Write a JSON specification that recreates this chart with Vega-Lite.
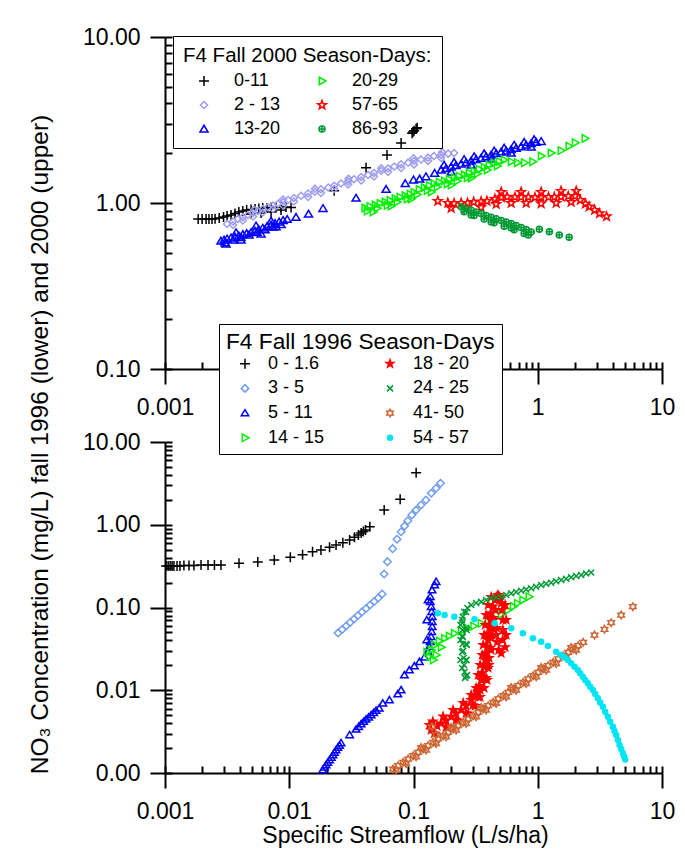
{
"$schema":"https://vega.github.io/schema/vega-lite/v6.json",
"background":"white",
"padding":{"left":27,"top":26,"right":5,"bottom":5},
"config":{"view":{"stroke":null},"font":"Liberation Sans",
 "axis":{"domainColor":"black","domainWidth":2,"tickColor":"black","tickWidth":2,"labelColor":"black","labelFont":"Liberation Sans","labelFontSize":23,"titleFont":"Liberation Sans","titleFontSize":23,"titleFontWeight":"normal","titleColor":"black","grid":false,"labelOverlap":false,"labelFlush":false,"labelBound":false},
 "legend":{"labelFont":"Liberation Sans","labelFontSize":18,"labelColor":"black","titleFont":"Liberation Sans","titleFontWeight":"normal","titleColor":"black","fillColor":"white","strokeColor":"black","symbolStrokeWidth":1.5,"symbolSize":100,"labelLimit":300,"titleLimit":500,"columns":2}
},
"resolve":{"scale":{"shape":"independent","stroke":"independent","fill":"independent"},"legend":{"shape":"independent","stroke":"independent","fill":"independent"}},
"datasets":{
"upper":[
{"series":"0-11","x":0.00185,"y":0.8},{"series":"0-11","x":0.00199,"y":0.8},{"series":"0-11","x":0.00214,"y":0.8},{"series":"0-11","x":0.00226,"y":0.8},{"series":"0-11","x":0.00239,"y":0.8},{"series":"0-11","x":0.00253,"y":0.805},{"series":"0-11","x":0.00273,"y":0.812},{"series":"0-11","x":0.00296,"y":0.824},{"series":"0-11","x":0.00316,"y":0.836},{"series":"0-11","x":0.0034,"y":0.847},{"series":"0-11","x":0.00366,"y":0.865},{"series":"0-11","x":0.00393,"y":0.883},{"series":"0-11","x":0.00423,"y":0.895},{"series":"0-11","x":0.00454,"y":0.907},{"series":"0-11","x":0.00493,"y":0.914},{"series":"0-11","x":0.0053,"y":0.92},{"series":"0-11","x":0.00569,"y":0.927},{"series":"0-11","x":0.00612,"y":0.933},{"series":"0-11","x":0.00663,"y":0.933},{"series":"0-11","x":0.00714,"y":0.94},{"series":"0-11","x":0.00783,"y":0.94},{"series":"0-11","x":0.00859,"y":0.946},{"series":"0-11","x":0.00942,"y":0.946},{"series":"0-11","x":0.01034,"y":0.94},{"series":"0-11","x":0.00493,"y":0.859},{"series":"0-11","x":0.00593,"y":0.871},{"series":"0-11","x":0.00714,"y":0.883},{"series":"0-11","x":0.00859,"y":0.907},{"series":"0-11","x":0.023,"y":1.186},{"series":"0-11","x":0.0415,"y":1.632},{"series":"0-11","x":0.0612,"y":1.946},{"series":"0-11","x":0.0795,"y":2.3},{"series":"0-11","x":0.0974,"y":2.63},{"series":"0-11","x":0.099,"y":2.68},{"series":"0-11","x":0.1011,"y":2.72},{"series":"0-11","x":0.1049,"y":2.8},{"series":"0-11","x":0.107,"y":2.84},
{"series":"2 - 13","x":0.00316,"y":0.747},{"series":"2 - 13","x":0.00353,"y":0.773},{"series":"2 - 13","x":0.00386,"y":0.801},{"series":"2 - 13","x":0.00423,"y":0.822},{"series":"2 - 13","x":0.00465,"y":0.847},{"series":"2 - 13","x":0.00511,"y":0.871},{"series":"2 - 13","x":0.00562,"y":0.895},{"series":"2 - 13","x":0.00612,"y":0.92},{"series":"2 - 13","x":0.00673,"y":0.942},{"series":"2 - 13","x":0.0074,"y":0.966},{"series":"2 - 13","x":0.00813,"y":0.99},{"series":"2 - 13","x":0.00892,"y":1.014},{"series":"2 - 13","x":0.00978,"y":1.042},{"series":"2 - 13","x":0.0109,"y":1.071},{"series":"2 - 13","x":0.01245,"y":1.105},{"series":"2 - 13","x":0.0142,"y":1.14},{"series":"2 - 13","x":0.0161,"y":1.17},{"series":"2 - 13","x":0.018,"y":1.21},{"series":"2 - 13","x":0.0206,"y":1.24},{"series":"2 - 13","x":0.023,"y":1.27},{"series":"2 - 13","x":0.0261,"y":1.31},{"series":"2 - 13","x":0.0298,"y":1.35},{"series":"2 - 13","x":0.0331,"y":1.39},{"series":"2 - 13","x":0.0379,"y":1.435},{"series":"2 - 13","x":0.0431,"y":1.475},{"series":"2 - 13","x":0.0481,"y":1.515},{"series":"2 - 13","x":0.0549,"y":1.564},{"series":"2 - 13","x":0.0625,"y":1.615},{"series":"2 - 13","x":0.0699,"y":1.66},{"series":"2 - 13","x":0.0795,"y":1.71},{"series":"2 - 13","x":0.0906,"y":1.75},{"series":"2 - 13","x":0.101,"y":1.79},{"series":"2 - 13","x":0.115,"y":1.83},{"series":"2 - 13","x":0.131,"y":1.875},{"series":"2 - 13","x":0.146,"y":1.92},{"series":"2 - 13","x":0.167,"y":1.95},{"series":"2 - 13","x":0.19,"y":1.985},{"series":"2 - 13","x":0.212,"y":2.0},{"series":"2 - 13","x":0.0052,"y":0.91},{"series":"2 - 13","x":0.0089,"y":1.05},{"series":"2 - 13","x":0.0161,"y":1.22},{"series":"2 - 13","x":0.03,"y":1.4},{"series":"2 - 13","x":0.055,"y":1.62},{"series":"2 - 13","x":0.1,"y":1.86},{"series":"2 - 13","x":0.17,"y":2.02},
{"series":"2 - 13","x":0.00353,"y":0.737},{"series":"2 - 13","x":0.00423,"y":0.785},{"series":"2 - 13","x":0.00511,"y":0.829},{"series":"2 - 13","x":0.00612,"y":0.877},{"series":"2 - 13","x":0.0074,"y":0.92},{"series":"2 - 13","x":0.00892,"y":0.966},{"series":"2 - 13","x":0.0109,"y":1.021},{"series":"2 - 13","x":0.0142,"y":1.087},{"series":"2 - 13","x":0.018,"y":1.149},{"series":"2 - 13","x":0.023,"y":1.214},{"series":"2 - 13","x":0.0298,"y":1.292},{"series":"2 - 13","x":0.0379,"y":1.366},{"series":"2 - 13","x":0.0481,"y":1.444},{"series":"2 - 13","x":0.0625,"y":1.537},{"series":"2 - 13","x":0.0795,"y":1.626},{"series":"2 - 13","x":0.101,"y":1.706},{"series":"2 - 13","x":0.131,"y":1.791},{"series":"2 - 13","x":0.167,"y":1.867},
{"series":"13-20","x":0.00282,"y":0.59},{"series":"13-20","x":0.00299,"y":0.5985},{"series":"13-20","x":0.00316,"y":0.607},{"series":"13-20","x":0.0034,"y":0.616},{"series":"13-20","x":0.00366,"y":0.625},{"series":"13-20","x":0.00393,"y":0.633},{"series":"13-20","x":0.00423,"y":0.646},{"series":"13-20","x":0.00454,"y":0.655},{"series":"13-20","x":0.00493,"y":0.664},{"series":"13-20","x":0.0053,"y":0.678},{"series":"13-20","x":0.00569,"y":0.692},{"series":"13-20","x":0.00612,"y":0.706},{"series":"13-20","x":0.00663,"y":0.721},{"series":"13-20","x":0.00714,"y":0.737},{"series":"13-20","x":0.00768,"y":0.753},{"series":"13-20","x":0.00829,"y":0.769},{"series":"13-20","x":0.00892,"y":0.785},{"series":"13-20","x":0.00962,"y":0.797},{"series":"13-20","x":0.0031,"y":0.566},{"series":"13-20","x":0.00409,"y":0.5985},{"series":"13-20","x":0.00593,"y":0.651},{"series":"13-20","x":0.00783,"y":0.72},{"series":"13-20","x":0.00373,"y":0.662},{"series":"13-20","x":0.0054,"y":0.727},{"series":"13-20","x":0.00714,"y":0.779},
{"series":"13-20","x":0.00304,"y":0.5764},{"series":"13-20","x":0.00353,"y":0.5977},{"series":"13-20","x":0.00409,"y":0.6197},{"series":"13-20","x":0.00475,"y":0.6426},{"series":"13-20","x":0.0055,"y":0.6663},{"series":"13-20","x":0.00639,"y":0.6907},{"series":"13-20","x":0.00741,"y":0.7162},{"series":"13-20","x":0.00859,"y":0.7425},
{"series":"13-20","x":0.01134,"y":0.82},{"series":"13-20","x":0.0143,"y":0.858},{"series":"13-20","x":0.0187,"y":0.928},{"series":"13-20","x":0.0345,"y":1.07},{"series":"13-20","x":0.0602,"y":1.21},{"series":"13-20","x":0.0858,"y":1.31},{"series":"13-20","x":0.1,"y":1.376},{"series":"13-20","x":0.112,"y":1.395},{"series":"13-20","x":0.126,"y":1.44},{"series":"13-20","x":0.148,"y":1.51},{"series":"13-20","x":0.167,"y":1.58},{"series":"13-20","x":0.183,"y":1.615},{"series":"13-20","x":0.201,"y":1.65},{"series":"13-20","x":0.22,"y":1.68},{"series":"13-20","x":0.242,"y":1.716},{"series":"13-20","x":0.265,"y":1.75},{"series":"13-20","x":0.291,"y":1.79},{"series":"13-20","x":0.319,"y":1.83},{"series":"13-20","x":0.35,"y":1.86},{"series":"13-20","x":0.384,"y":1.9},{"series":"13-20","x":0.422,"y":1.946},{"series":"13-20","x":0.463,"y":1.985},{"series":"13-20","x":0.508,"y":2.03},{"series":"13-20","x":0.557,"y":2.06},{"series":"13-20","x":0.611,"y":2.1},{"series":"13-20","x":0.67,"y":2.14},{"series":"13-20","x":0.735,"y":2.18},{"series":"13-20","x":0.807,"y":2.235},{"series":"13-20","x":0.885,"y":2.28},{"series":"13-20","x":0.971,"y":2.32},{"series":"13-20","x":1.065,"y":2.35},{"series":"13-20","x":0.201,"y":1.537},{"series":"13-20","x":0.291,"y":1.694},{"series":"13-20","x":0.422,"y":1.841},{"series":"13-20","x":0.611,"y":2.0},{"series":"13-20","x":0.885,"y":2.174},
{"series":"13-20","x":0.1763,"y":1.692},{"series":"13-20","x":0.2123,"y":1.759},{"series":"13-20","x":0.2555,"y":1.831},{"series":"13-20","x":0.3075,"y":1.903},{"series":"13-20","x":0.3702,"y":1.98},{"series":"13-20","x":0.4456,"y":2.059},{"series":"13-20","x":0.5365,"y":2.144},{"series":"13-20","x":0.6457,"y":2.229},{"series":"13-20","x":0.7771,"y":2.32},{"series":"13-20","x":0.9354,"y":2.412},
{"series":"20-29","x":0.0406,"y":0.933},{"series":"20-29","x":0.0446,"y":0.953},{"series":"20-29","x":0.0491,"y":0.973},{"series":"20-29","x":0.0538,"y":0.993},{"series":"20-29","x":0.059,"y":1.014},{"series":"20-29","x":0.0647,"y":1.035},{"series":"20-29","x":0.0711,"y":1.063},{"series":"20-29","x":0.0778,"y":1.084},{"series":"20-29","x":0.0855,"y":1.106},{"series":"20-29","x":0.0937,"y":1.129},{"series":"20-29","x":0.101,"y":1.16},{"series":"20-29","x":0.111,"y":1.206},{"series":"20-29","x":0.122,"y":1.24},{"series":"20-29","x":0.134,"y":1.274},{"series":"20-29","x":0.146,"y":1.31},{"series":"20-29","x":0.161,"y":1.335},{"series":"20-29","x":0.177,"y":1.36},{"series":"20-29","x":0.194,"y":1.39},{"series":"20-29","x":0.213,"y":1.42},{"series":"20-29","x":0.233,"y":1.45},{"series":"20-29","x":0.256,"y":1.48},{"series":"20-29","x":0.28,"y":1.52},{"series":"20-29","x":0.307,"y":1.55},{"series":"20-29","x":0.337,"y":1.6},{"series":"20-29","x":0.37,"y":1.645},{"series":"20-29","x":0.406,"y":1.694},{"series":"20-29","x":0.445,"y":1.74},{"series":"20-29","x":0.488,"y":1.78},{"series":"20-29","x":0.536,"y":1.816},{"series":"20-29","x":0.0473,"y":0.883},{"series":"20-29","x":0.066,"y":0.959},{"series":"20-29","x":0.0957,"y":1.057},{"series":"20-29","x":0.139,"y":1.165},{"series":"20-29","x":0.201,"y":1.283},{"series":"20-29","x":0.291,"y":1.414},
{"series":"20-29","x":0.04231,"y":0.8951},{"series":"20-29","x":0.05094,"y":0.9305},{"series":"20-29","x":0.06133,"y":0.9685},{"series":"20-29","x":0.07379,"y":1.014},{"series":"20-29","x":0.08883,"y":1.057},{"series":"20-29","x":0.1069,"y":1.125},{"series":"20-29","x":0.1287,"y":1.19},{"series":"20-29","x":0.1549,"y":1.249},{"series":"20-29","x":0.1865,"y":1.302},{"series":"20-29","x":0.2244,"y":1.357},{"series":"20-29","x":0.2702,"y":1.419},{"series":"20-29","x":0.3252,"y":1.5},{"series":"20-29","x":0.3915,"y":1.58},{"series":"20-29","x":0.4712,"y":1.67},
{"series":"20-29","x":0.611,"y":1.775},{"series":"20-29","x":0.685,"y":1.75},{"series":"20-29","x":0.78,"y":1.75},{"series":"20-29","x":0.91,"y":1.775},{"series":"20-29","x":1.065,"y":1.92},{"series":"20-29","x":1.28,"y":2.0},{"series":"20-29","x":1.54,"y":2.07},{"series":"20-29","x":1.78,"y":2.2},{"series":"20-29","x":2.0,"y":2.31},{"series":"20-29","x":2.4,"y":2.45},
{"series":"57-65","x":0.157,"y":1.028},{"series":"57-65","x":0.189,"y":1.0},{"series":"57-65","x":0.212,"y":0.995},{"series":"57-65","x":0.242,"y":1.0},{"series":"57-65","x":0.272,"y":1.0},{"series":"57-65","x":0.305,"y":1.014},{"series":"57-65","x":0.35,"y":1.02},{"series":"57-65","x":0.39,"y":1.028},{"series":"57-65","x":0.452,"y":1.057},{"series":"57-65","x":0.508,"y":1.08},{"series":"57-65","x":0.566,"y":1.09},{"series":"57-65","x":0.655,"y":1.085},{"series":"57-65","x":0.735,"y":1.085},{"series":"57-65","x":0.84,"y":1.085},{"series":"57-65","x":0.95,"y":1.08},{"series":"57-65","x":1.065,"y":1.08},{"series":"57-65","x":1.22,"y":1.085},{"series":"57-65","x":1.36,"y":1.085},{"series":"57-65","x":1.54,"y":1.09},{"series":"57-65","x":1.76,"y":1.1},{"series":"57-65","x":2.0,"y":1.1},{"series":"57-65","x":2.2,"y":1.042},{"series":"57-65","x":2.42,"y":0.99},{"series":"57-65","x":2.59,"y":0.95},{"series":"57-65","x":2.87,"y":0.907},{"series":"57-65","x":3.14,"y":0.865},{"series":"57-65","x":3.58,"y":0.83},{"series":"57-65","x":0.201,"y":0.933},{"series":"57-65","x":0.265,"y":0.927},{"series":"57-65","x":0.35,"y":0.94},{"series":"57-65","x":0.463,"y":0.986},{"series":"57-65","x":0.611,"y":1.0},{"series":"57-65","x":0.807,"y":1.0},{"series":"57-65","x":1.065,"y":0.993},{"series":"57-65","x":1.407,"y":1.0},{"series":"57-65","x":1.858,"y":1.014},{"series":"57-65","x":0.508,"y":1.165},{"series":"57-65","x":0.735,"y":1.165},{"series":"57-65","x":1.065,"y":1.165},{"series":"57-65","x":1.54,"y":1.18},{"series":"57-65","x":2.04,"y":1.18},
{"series":"86-93","x":0.242,"y":0.95},{"series":"86-93","x":0.265,"y":0.927},{"series":"86-93","x":0.291,"y":0.903},{"series":"86-93","x":0.319,"y":0.883},{"series":"86-93","x":0.35,"y":0.865},{"series":"86-93","x":0.384,"y":0.84},{"series":"86-93","x":0.422,"y":0.822},{"series":"86-93","x":0.463,"y":0.805},{"series":"86-93","x":0.508,"y":0.785},{"series":"86-93","x":0.557,"y":0.769},{"series":"86-93","x":0.611,"y":0.753},{"series":"86-93","x":0.67,"y":0.732},{"series":"86-93","x":0.735,"y":0.712},{"series":"86-93","x":0.807,"y":0.692},{"series":"86-93","x":0.885,"y":0.669},{"series":"86-93","x":0.291,"y":0.847},{"series":"86-93","x":0.422,"y":0.769},{"series":"86-93","x":0.611,"y":0.707},{"series":"86-93","x":0.84,"y":0.642},
{"series":"86-93","x":0.2554,"y":0.8851},{"series":"86-93","x":0.3075,"y":0.8418},{"series":"86-93","x":0.3702,"y":0.8008},{"series":"86-93","x":0.4456,"y":0.7616},{"series":"86-93","x":0.5365,"y":0.7245},{"series":"86-93","x":0.6457,"y":0.6896},{"series":"86-93","x":0.7771,"y":0.6558},
{"series":"86-93","x":1.03,"y":0.694},{"series":"86-93","x":1.24,"y":0.672},{"series":"86-93","x":1.49,"y":0.642},{"series":"86-93","x":1.79,"y":0.622}
],
"lower":[
{"series":"0 - 1.6","x":0.00102,"y":0.318},{"series":"0 - 1.6","x":0.00106,"y":0.318},{"series":"0 - 1.6","x":0.0011,"y":0.318},{"series":"0 - 1.6","x":0.00114,"y":0.318},{"series":"0 - 1.6","x":0.00118,"y":0.318},{"series":"0 - 1.6","x":0.00125,"y":0.318},{"series":"0 - 1.6","x":0.00132,"y":0.318},{"series":"0 - 1.6","x":0.00142,"y":0.322},{"series":"0 - 1.6","x":0.00156,"y":0.322},{"series":"0 - 1.6","x":0.00171,"y":0.322},{"series":"0 - 1.6","x":0.00195,"y":0.326},{"series":"0 - 1.6","x":0.00222,"y":0.326},{"series":"0 - 1.6","x":0.0025,"y":0.326},{"series":"0 - 1.6","x":0.00282,"y":0.326},{"series":"0 - 1.6","x":0.00394,"y":0.342},{"series":"0 - 1.6","x":0.00558,"y":0.355},{"series":"0 - 1.6","x":0.00758,"y":0.375},{"series":"0 - 1.6","x":0.0102,"y":0.404},{"series":"0 - 1.6","x":0.0128,"y":0.4345},{"series":"0 - 1.6","x":0.0154,"y":0.472},{"series":"0 - 1.6","x":0.018,"y":0.495},{"series":"0 - 1.6","x":0.0211,"y":0.534},{"series":"0 - 1.6","x":0.0238,"y":0.569},{"series":"0 - 1.6","x":0.027,"y":0.607},{"series":"0 - 1.6","x":0.0306,"y":0.654},{"series":"0 - 1.6","x":0.0335,"y":0.705},{"series":"0 - 1.6","x":0.036,"y":0.752},{"series":"0 - 1.6","x":0.0379,"y":0.795},{"series":"0 - 1.6","x":0.0395,"y":0.829},{"series":"0 - 1.6","x":0.0411,"y":0.864},{"series":"0 - 1.6","x":0.0445,"y":0.947},{"series":"0 - 1.6","x":0.0581,"y":1.508},{"series":"0 - 1.6","x":0.0781,"y":2.03},{"series":"0 - 1.6","x":0.105,"y":4.25},
{"series":"3 - 5","x":0.0247,"y":0.0493},{"series":"3 - 5","x":0.0267,"y":0.0542},{"series":"3 - 5","x":0.0287,"y":0.0597},{"series":"3 - 5","x":0.0309,"y":0.0659},{"series":"3 - 5","x":0.0332,"y":0.0726},{"series":"3 - 5","x":0.0357,"y":0.08},{"series":"3 - 5","x":0.0384,"y":0.0882},{"series":"3 - 5","x":0.0415,"y":0.0973},{"series":"3 - 5","x":0.0447,"y":0.1072},{"series":"3 - 5","x":0.0482,"y":0.1182},{"series":"3 - 5","x":0.052,"y":0.1303},{"series":"3 - 5","x":0.0559,"y":0.1456},{"series":"3 - 5","x":0.058,"y":0.254},{"series":"3 - 5","x":0.0617,"y":0.358},{"series":"3 - 5","x":0.0679,"y":0.514},{"series":"3 - 5","x":0.0737,"y":0.667},{"series":"3 - 5","x":0.0795,"y":0.824},{"series":"3 - 5","x":0.0846,"y":0.966},{"series":"3 - 5","x":0.09,"y":1.119},{"series":"3 - 5","x":0.0969,"y":1.312},{"series":"3 - 5","x":0.105,"y":1.508},{"series":"3 - 5","x":0.115,"y":1.733},{"series":"3 - 5","x":0.126,"y":1.99},{"series":"3 - 5","x":0.139,"y":2.4},{"series":"3 - 5","x":0.152,"y":2.76},{"series":"3 - 5","x":0.165,"y":3.17},
{"series":"5 - 11","x":0.0186,"y":0.001087},{"series":"5 - 11","x":0.0192,"y":0.00117},{"series":"5 - 11","x":0.0198,"y":0.00125},{"series":"5 - 11","x":0.0204,"y":0.00134},{"series":"5 - 11","x":0.0211,"y":0.00144},{"series":"5 - 11","x":0.0218,"y":0.00154},{"series":"5 - 11","x":0.0225,"y":0.00165},{"series":"5 - 11","x":0.0231,"y":0.00177},{"series":"5 - 11","x":0.0238,"y":0.0019},{"series":"5 - 11","x":0.0246,"y":0.00203},{"series":"5 - 11","x":0.0254,"y":0.00215},{"series":"5 - 11","x":0.0261,"y":0.00231},{"series":"5 - 11","x":0.0306,"y":0.00288},{"series":"5 - 11","x":0.0345,"y":0.00337},{"series":"5 - 11","x":0.0362,"y":0.00362},{"series":"5 - 11","x":0.0379,"y":0.00391},{"series":"5 - 11","x":0.0397,"y":0.00418},{"series":"5 - 11","x":0.0415,"y":0.00446},{"series":"5 - 11","x":0.0435,"y":0.00473},{"series":"5 - 11","x":0.0456,"y":0.00502},{"series":"5 - 11","x":0.0478,"y":0.00535},{"series":"5 - 11","x":0.05,"y":0.00569},{"series":"5 - 11","x":0.053,"y":0.00605},{"series":"5 - 11","x":0.0566,"y":0.00695},{"series":"5 - 11","x":0.064,"y":0.00762},{"series":"5 - 11","x":0.0747,"y":0.00901},{"series":"5 - 11","x":0.0795,"y":0.01007},{"series":"5 - 11","x":0.0845,"y":0.01528},{"series":"5 - 11","x":0.0927,"y":0.01756},{"series":"5 - 11","x":0.1017,"y":0.0196},{"series":"5 - 11","x":0.1116,"y":0.0221},{"series":"5 - 11","x":0.1224,"y":0.025},{"series":"5 - 11","x":0.1303,"y":0.0292},{"series":"5 - 11","x":0.134,"y":0.0336},{"series":"5 - 11","x":0.1365,"y":0.0386},{"series":"5 - 11","x":0.1386,"y":0.0444},{"series":"5 - 11","x":0.14,"y":0.051},{"series":"5 - 11","x":0.1414,"y":0.0586},{"series":"5 - 11","x":0.1414,"y":0.0673},{"series":"5 - 11","x":0.1414,"y":0.0774},{"series":"5 - 11","x":0.14,"y":0.0889},{"series":"5 - 11","x":0.1386,"y":0.1022},{"series":"5 - 11","x":0.1365,"y":0.1175},{"series":"5 - 11","x":0.1365,"y":0.1351},{"series":"5 - 11","x":0.141,"y":0.1627},{"series":"5 - 11","x":0.148,"y":0.187},{"series":"5 - 11","x":0.152,"y":0.205},{"series":"5 - 11","x":0.128,"y":0.0405},{"series":"5 - 11","x":0.128,"y":0.0706},{"series":"5 - 11","x":0.131,"y":0.1232},
{"series":"14 - 15","x":0.134,"y":0.0255},{"series":"14 - 15","x":0.1386,"y":0.0306},{"series":"14 - 15","x":0.148,"y":0.0352},{"series":"14 - 15","x":0.161,"y":0.0394},{"series":"14 - 15","x":0.178,"y":0.0424},{"series":"14 - 15","x":0.194,"y":0.0452},{"series":"14 - 15","x":0.213,"y":0.0488},{"series":"14 - 15","x":0.242,"y":0.052},{"series":"14 - 15","x":0.272,"y":0.0561},{"series":"14 - 15","x":0.305,"y":0.0597},{"series":"14 - 15","x":0.35,"y":0.0644},{"series":"14 - 15","x":0.399,"y":0.0687},{"series":"14 - 15","x":0.45,"y":0.0741},{"series":"14 - 15","x":0.508,"y":0.0823},{"series":"14 - 15","x":0.575,"y":0.0933},{"series":"14 - 15","x":0.635,"y":0.1028},{"series":"14 - 15","x":0.685,"y":0.1124},{"series":"14 - 15","x":0.757,"y":0.1232},{"series":"14 - 15","x":0.85,"y":0.135},{"series":"14 - 15","x":0.128,"y":0.0289},{"series":"14 - 15","x":0.152,"y":0.0267},{"series":"14 - 15","x":0.167,"y":0.0331},{"series":"14 - 15","x":0.144,"y":0.0232},
{"series":"18 - 20","x":0.1386,"y":0.00331},{"series":"18 - 20","x":0.134,"y":0.0038},{"series":"18 - 20","x":0.143,"y":0.0042},{"series":"18 - 20","x":0.155,"y":0.0037},{"series":"18 - 20","x":0.147,"y":0.003},{"series":"18 - 20","x":0.167,"y":0.00398},{"series":"18 - 20","x":0.183,"y":0.00431},{"series":"18 - 20","x":0.201,"y":0.00479},{"series":"18 - 20","x":0.22,"y":0.00524},{"series":"18 - 20","x":0.242,"y":0.00577},{"series":"18 - 20","x":0.265,"y":0.00654},{"series":"18 - 20","x":0.291,"y":0.00762},{"series":"18 - 20","x":0.313,"y":0.00864},{"series":"18 - 20","x":0.329,"y":0.0096},{"series":"18 - 20","x":0.341,"y":0.01125},{"series":"18 - 20","x":0.35,"y":0.0133},{"series":"18 - 20","x":0.36,"y":0.01616},{"series":"18 - 20","x":0.368,"y":0.01925},{"series":"18 - 20","x":0.377,"y":0.0232},{"series":"18 - 20","x":0.384,"y":0.028},{"series":"18 - 20","x":0.392,"y":0.0336},{"series":"18 - 20","x":0.397,"y":0.0405},{"series":"18 - 20","x":0.403,"y":0.0488},{"series":"18 - 20","x":0.41,"y":0.0586},{"series":"18 - 20","x":0.416,"y":0.0706},{"series":"18 - 20","x":0.422,"y":0.0851},{"series":"18 - 20","x":0.435,"y":0.1028},{"series":"18 - 20","x":0.45,"y":0.1232},{"series":"18 - 20","x":0.463,"y":0.1339},{"series":"18 - 20","x":0.478,"y":0.1416},{"series":"18 - 20","x":0.494,"y":0.1339},{"series":"18 - 20","x":0.508,"y":0.1124},{"series":"18 - 20","x":0.517,"y":0.0933},{"series":"18 - 20","x":0.524,"y":0.0706},{"series":"18 - 20","x":0.524,"y":0.0535},{"series":"18 - 20","x":0.521,"y":0.0405},{"series":"18 - 20","x":0.508,"y":0.028},{"series":"18 - 20","x":0.485,"y":0.0306},{"series":"18 - 20","x":0.471,"y":0.0383},{"series":"18 - 20","x":0.463,"y":0.0465},{"series":"18 - 20","x":0.467,"y":0.0565},{"series":"18 - 20","x":0.183,"y":0.0036},{"series":"18 - 20","x":0.22,"y":0.00437},{"series":"18 - 20","x":0.265,"y":0.0053},{"series":"18 - 20","x":0.3,"y":0.0066},{"series":"18 - 20","x":0.332,"y":0.00829},{"series":"18 - 20","x":0.345,"y":0.0101},{"series":"18 - 20","x":0.391,"y":0.0133},{"series":"18 - 20","x":0.405,"y":0.0202},{"series":"18 - 20","x":0.422,"y":0.0306},{"series":"18 - 20","x":0.43,"y":0.0465},{"series":"18 - 20","x":0.44,"y":0.0706},{"series":"18 - 20","x":0.456,"y":0.0933},
{"series":"18 - 20","x":0.1731,"y":0.004818},{"series":"18 - 20","x":0.2084,"y":0.005771},{"series":"18 - 20","x":0.2509,"y":0.007015},{"series":"18 - 20","x":0.2911,"y":0.008762},{"series":"18 - 20","x":0.3193,"y":0.01065},{"series":"18 - 20","x":0.3313,"y":0.01528},{"series":"18 - 20","x":0.3438,"y":0.02018},{"series":"18 - 20","x":0.3567,"y":0.02666},{"series":"18 - 20","x":0.3634,"y":0.03521},{"series":"18 - 20","x":0.3702,"y":0.04652},{"series":"18 - 20","x":0.3772,"y":0.06144},{"series":"18 - 20","x":0.3843,"y":0.08116},{"series":"18 - 20","x":0.3987,"y":0.1072},{"series":"18 - 20","x":0.5465,"y":0.1072},{"series":"18 - 20","x":0.5569,"y":0.07062},{"series":"18 - 20","x":0.5569,"y":0.04652},{"series":"18 - 20","x":0.5465,"y":0.0331},{"series":"18 - 20","x":0.4217,"y":0.1339},{"series":"18 - 20","x":0.4982,"y":0.1267},{"series":"18 - 20","x":0.1899,"y":0.0036},{"series":"18 - 20","x":0.2286,"y":0.00425},{"series":"18 - 20","x":0.2752,"y":0.00516},{"series":"18 - 20","x":0.313,"y":0.00645},{"series":"18 - 20","x":0.3438,"y":0.00829},{"series":"18 - 20","x":0.3702,"y":0.01065},{"series":"18 - 20","x":0.3843,"y":0.01406},{"series":"18 - 20","x":0.3987,"y":0.01857},{"series":"18 - 20","x":0.4062,"y":0.02453},{"series":"18 - 20","x":0.4139,"y":0.03239},{"series":"18 - 20","x":0.4217,"y":0.04279},{"series":"18 - 20","x":0.4297,"y":0.05655},{"series":"18 - 20","x":0.4375,"y":0.07464},
{"series":"24 - 25","x":0.26,"y":0.0141},{"series":"24 - 25","x":0.258,"y":0.0166},{"series":"24 - 25","x":0.255,"y":0.0202},{"series":"24 - 25","x":0.253,"y":0.0245},{"series":"24 - 25","x":0.251,"y":0.0298},{"series":"24 - 25","x":0.249,"y":0.0362},{"series":"24 - 25","x":0.249,"y":0.044},{"series":"24 - 25","x":0.247,"y":0.0535},{"series":"24 - 25","x":0.247,"y":0.065},{"series":"24 - 25","x":0.249,"y":0.0774},{"series":"24 - 25","x":0.256,"y":0.0889},{"series":"24 - 25","x":0.27,"y":0.0153},{"series":"24 - 25","x":0.268,"y":0.0232},{"series":"24 - 25","x":0.268,"y":0.0352},{"series":"24 - 25","x":0.268,"y":0.0535},{"series":"24 - 25","x":0.239,"y":0.0232},{"series":"24 - 25","x":0.239,"y":0.0405},{"series":"24 - 25","x":0.239,"y":0.0614},
{"series":"24 - 25","x":0.2462,"y":0.07062},{"series":"24 - 25","x":0.2462,"y":0.04524},{"series":"24 - 25","x":0.2462,"y":0.02898},{"series":"24 - 25","x":0.2462,"y":0.01857},{"series":"24 - 25","x":0.2653,"y":0.08823},{"series":"24 - 25","x":0.2653,"y":0.05655},{"series":"24 - 25","x":0.2653,"y":0.03622},{"series":"24 - 25","x":0.2653,"y":0.0232},{"series":"24 - 25","x":0.2653,"y":0.01486},
{"series":"24 - 25","x":0.272,"y":0.0986},{"series":"24 - 25","x":0.291,"y":0.1072},{"series":"24 - 25","x":0.319,"y":0.1133},{"series":"24 - 25","x":0.35,"y":0.117},{"series":"24 - 25","x":0.384,"y":0.1232},{"series":"24 - 25","x":0.422,"y":0.1292},{"series":"24 - 25","x":0.463,"y":0.132},{"series":"24 - 25","x":0.508,"y":0.135},{"series":"24 - 25","x":0.557,"y":0.1416},{"series":"24 - 25","x":0.611,"y":0.1484},{"series":"24 - 25","x":0.67,"y":0.154},{"series":"24 - 25","x":0.735,"y":0.1596},{"series":"24 - 25","x":0.807,"y":0.165},{"series":"24 - 25","x":0.885,"y":0.1706},{"series":"24 - 25","x":0.971,"y":0.1784},{"series":"24 - 25","x":1.065,"y":0.187},{"series":"24 - 25","x":1.169,"y":0.194},{"series":"24 - 25","x":1.282,"y":0.1995},{"series":"24 - 25","x":1.407,"y":0.2074},{"series":"24 - 25","x":1.543,"y":0.2149},{"series":"24 - 25","x":1.693,"y":0.2228},{"series":"24 - 25","x":1.858,"y":0.2317},{"series":"24 - 25","x":2.038,"y":0.2403},{"series":"24 - 25","x":2.236,"y":0.247},{"series":"24 - 25","x":2.453,"y":0.2576},{"series":"24 - 25","x":2.692,"y":0.2649},
{"series":"41- 50","x":0.0685,"y":0.001117},{"series":"41- 50","x":0.0752,"y":0.001225},{"series":"41- 50","x":0.0825,"y":0.001347},{"series":"41- 50","x":0.0905,"y":0.001476},{"series":"41- 50","x":0.0993,"y":0.001618},{"series":"41- 50","x":0.1089,"y":0.001779},{"series":"41- 50","x":0.1195,"y":0.00195},{"series":"41- 50","x":0.1311,"y":0.002138},{"series":"41- 50","x":0.1438,"y":0.00235},{"series":"41- 50","x":0.1578,"y":0.002577},{"series":"41- 50","x":0.1731,"y":0.002825},{"series":"41- 50","x":0.1899,"y":0.003105},{"series":"41- 50","x":0.2084,"y":0.003403},{"series":"41- 50","x":0.2286,"y":0.003729},{"series":"41- 50","x":0.2509,"y":0.0041},{"series":"41- 50","x":0.2752,"y":0.004494},{"series":"41- 50","x":0.302,"y":0.004927},{"series":"41- 50","x":0.3313,"y":0.005414},{"series":"41- 50","x":0.3634,"y":0.005935},{"series":"41- 50","x":0.3987,"y":0.006507},{"series":"41- 50","x":0.4375,"y":0.007153},{"series":"41- 50","x":0.48,"y":0.007842},{"series":"41- 50","x":0.5266,"y":0.008595},{"series":"41- 50","x":0.5778,"y":0.009445},{"series":"41- 50","x":0.6339,"y":0.01035},{"series":"41- 50","x":0.6955,"y":0.01135},{"series":"41- 50","x":0.763,"y":0.01248},{"series":"41- 50","x":0.8372,"y":0.01368},{"series":"41- 50","x":0.9185,"y":0.01499},{"series":"41- 50","x":1.0074,"y":0.01648},{"series":"41- 50","x":1.1053,"y":0.01807},{"series":"41- 50","x":1.2126,"y":0.01981},{"series":"41- 50","x":1.3305,"y":0.02178},{"series":"41- 50","x":1.4596,"y":0.02387},{"series":"41- 50","x":1.6014,"y":0.02617},{"series":"41- 50","x":1.757,"y":0.02874},{"series":"41- 50","x":1.9275,"y":0.03151},{"series":"41- 50","x":2.1149,"y":0.03455},{"series":"41- 50","x":2.3202,"y":0.03799},{"series":"41- 50","x":0.1151,"y":0.002033},{"series":"41- 50","x":0.2009,"y":0.003548},{"series":"41- 50","x":0.3503,"y":0.006186},{"series":"41- 50","x":0.611,"y":0.01079},{"series":"41- 50","x":1.065,"y":0.01883},{"series":"41- 50","x":1.858,"y":0.03285},{"series":"41- 50","x":0.141,"y":0.0036},{"series":"41- 50","x":0.152,"y":0.0029},
{"series":"41- 50","x":0.07244,"y":0.001084},{"series":"41- 50","x":0.08719,"y":0.001306},{"series":"41- 50","x":0.1049,"y":0.001569},{"series":"41- 50","x":0.1263,"y":0.001891},{"series":"41- 50","x":0.1521,"y":0.002272},{"series":"41- 50","x":0.1831,"y":0.002738},{"series":"41- 50","x":0.2204,"y":0.0033},{"series":"41- 50","x":0.2653,"y":0.003963},{"series":"41- 50","x":0.3193,"y":0.004777},{"series":"41- 50","x":0.3843,"y":0.005755},{"series":"41- 50","x":0.4627,"y":0.006917},{"series":"41- 50","x":0.5569,"y":0.008332},{"series":"41- 50","x":0.6703,"y":0.01001},{"series":"41- 50","x":0.8068,"y":0.01206},{"series":"41- 50","x":0.9708,"y":0.01453},{"series":"41- 50","x":1.169,"y":0.01747},{"series":"41- 50","x":1.407,"y":0.02104},{"series":"41- 50","x":1.693,"y":0.02536},{"series":"41- 50","x":2.038,"y":0.03048},
{"series":"41- 50","x":2.862,"y":0.04652},{"series":"41- 50","x":3.443,"y":0.0545},{"series":"41- 50","x":3.899,"y":0.0655},{"series":"41- 50","x":4.694,"y":0.08116},{"series":"41- 50","x":5.83,"y":0.1022},
{"series":"54 - 57","x":0.157,"y":0.0851},{"series":"54 - 57","x":0.178,"y":0.0812},{"series":"54 - 57","x":0.213,"y":0.0774},{"series":"54 - 57","x":0.3093,"y":0.072},{"series":"54 - 57","x":0.45,"y":0.0644},{"series":"54 - 57","x":0.611,"y":0.0561},{"series":"54 - 57","x":0.7586,"y":0.0488},{"series":"54 - 57","x":0.913,"y":0.0424},{"series":"54 - 57","x":1.065,"y":0.0386},{"series":"54 - 57","x":1.206,"y":0.0343},{"series":"54 - 57","x":1.407,"y":0.0292},{"series":"54 - 57","x":1.543,"y":0.0267},{"series":"54 - 57","x":1.641,"y":0.025},{"series":"54 - 57","x":1.747,"y":0.0232},{"series":"54 - 57","x":1.858,"y":0.0212},{"series":"54 - 57","x":1.975,"y":0.01925},{"series":"54 - 57","x":2.103,"y":0.01756},{"series":"54 - 57","x":2.195,"y":0.01603},{"series":"54 - 57","x":2.308,"y":0.01458},{"series":"54 - 57","x":2.408,"y":0.0133},{"series":"54 - 57","x":2.532,"y":0.01213},{"series":"54 - 57","x":2.642,"y":0.01104},{"series":"54 - 57","x":2.777,"y":0.01007},{"series":"54 - 57","x":2.899,"y":0.009},{"series":"54 - 57","x":3.047,"y":0.008},{"series":"54 - 57","x":3.18,"y":0.00711},{"series":"54 - 57","x":3.344,"y":0.00632},{"series":"54 - 57","x":3.489,"y":0.0055},{"series":"54 - 57","x":3.667,"y":0.00479},{"series":"54 - 57","x":3.828,"y":0.00417},{"series":"54 - 57","x":4.024,"y":0.00363},{"series":"54 - 57","x":4.146,"y":0.00322},{"series":"54 - 57","x":4.278,"y":0.00288},{"series":"54 - 57","x":4.415,"y":0.0025},{"series":"54 - 57","x":4.548,"y":0.00218},{"series":"54 - 57","x":4.694,"y":0.00195},{"series":"54 - 57","x":4.844,"y":0.00173},{"series":"54 - 57","x":4.963,"y":0.00158},{"series":"54 - 57","x":5.055,"y":0.00146}
]
},
"spacing":73,
"bounds":"flush",
"vconcat":[
{
 "width":497,"height":332,
 "data":{"name":"upper"},
 "layer":[
  {"mark":{"type":"point","opacity":1,"strokeWidth":1.5,"size":100},
   "encoding":{
    "x":{"field":"x","type":"quantitative","scale":{"type":"log","domain":[0.001,10],"nice":false},"axis":{"orient":"bottom","values":[0.001,0.002,0.003,0.004,0.005,0.006,0.007,0.008,0.009,0.01,0.02,0.03,0.04,0.05,0.06,0.07,0.08,0.09,0.1,0.2,0.3,0.4,0.5,0.6,0.7,0.8,0.9,1,2,3,4,5,6,7,8,9,10],"tickSize":-7,"labels":false,"title":null}},
    "y":{"field":"y","type":"quantitative","scale":{"type":"log","domain":[0.1,10],"nice":false},"axis":{"orient":"left","values":[0.1,0.2,0.3,0.4,0.5,0.6,0.7,0.8,0.9,1,2,3,4,5,6,7,8,9,10],"tickSize":-7,"labels":false,"title":null}},
    "shape":{"field":"series","type":"nominal","scale":{"domain":["0-11","2 - 13","13-20","20-29","57-65","86-93"],"range":["M-1,0H1M0,-1V1","M0,-0.7L0.7,0L0,0.7L-0.7,0Z","M0,-0.75L0.8,0.6L-0.8,0.6Z","M-0.55,-0.75L0.8,0L-0.55,0.75Z","M0,-0.9L0.212,-0.291L0.856,-0.278L0.342,0.111L0.529,0.728L0,0.36L-0.529,0.728L-0.342,0.111L-0.856,-0.278L-0.212,-0.291Z","M-0.6,0A0.6,0.6,0,1,1,0.6,0A0.6,0.6,0,1,1,-0.6,0ZM-0.6,0H0.6M0,-0.6V0.6"]},
      "legend":{"title":"F4 Fall 2000 Season-Days:","orient":"none","legendX":8,"legendY":-1,"columns":2,"columnPadding":20,"rowPadding":6,"symbolOffset":12,"labelOffset":21,"titleFontSize":20.5,"titlePadding":5.5,"padding":10,"fillColor":"transparent","encode":{"legend":{"update":{"strokeWidth":{"value":2}}}}}},
    "stroke":{"field":"series","type":"nominal","scale":{"domain":["0-11","2 - 13","13-20","20-29","57-65","86-93"],"range":["#000000","#9d9cf0","#0000ff","#00f000","#ff0000","#009933"]},
      "legend":{"title":"F4 Fall 2000 Season-Days:","orient":"none","legendX":8,"legendY":-1,"columns":2,"columnPadding":20,"rowPadding":6,"symbolOffset":12,"labelOffset":21,"titleFontSize":20.5,"titlePadding":5.5,"padding":10,"fillColor":"transparent","encode":{"legend":{"update":{"strokeWidth":{"value":2}}}}}},
    "fill":{"field":"series","type":"nominal","scale":{"domain":["0-11","2 - 13","13-20","20-29","57-65","86-93"],"range":["transparent","transparent","transparent","transparent","transparent","transparent"]},
      "legend":{"title":"F4 Fall 2000 Season-Days:","orient":"none","legendX":8,"legendY":-1,"columns":2,"columnPadding":20,"rowPadding":6,"symbolOffset":12,"labelOffset":21,"titleFontSize":20.5,"titlePadding":5.5,"padding":10,"fillColor":"transparent","encode":{"legend":{"update":{"strokeWidth":{"value":2}}}}}}
   }},
  {"mark":{"type":"point","opacity":0},
   "encoding":{
    "x":{"field":"x","type":"quantitative","scale":{"type":"log","domain":[0.001,10],"nice":false},"axis":{"orient":"bottom","values":[0.001,1,10],"tickSize":15,"domain":false,"format":"~g","labelPadding":12,"title":null}},
    "y":{"field":"y","type":"quantitative","scale":{"type":"log","domain":[0.1,10],"nice":false},"axis":{"orient":"left","values":[0.1,1,10],"tickSize":15,"domain":false,"format":".2f","labelPadding":10,"title":null}}
   }}
 ],
 "resolve":{"axis":{"x":"independent","y":"independent"}}
},
{
 "width":497,"height":331,
 "data":{"name":"lower"},
 "layer":[
  {"mark":{"type":"point","opacity":1,"strokeWidth":1.5,"size":100},
   "encoding":{
    "x":{"field":"x","type":"quantitative","scale":{"type":"log","domain":[0.001,10],"nice":false},"axis":{"orient":"bottom","values":[0.001,0.002,0.003,0.004,0.005,0.006,0.007,0.008,0.009,0.01,0.02,0.03,0.04,0.05,0.06,0.07,0.08,0.09,0.1,0.2,0.3,0.4,0.5,0.6,0.7,0.8,0.9,1,2,3,4,5,6,7,8,9,10],"tickSize":-7,"labels":false,"title":null}},
    "y":{"field":"y","type":"quantitative","scale":{"type":"log","domain":[0.001,10],"nice":false},"axis":{"orient":"left","values":[0.001,0.002,0.003,0.004,0.005,0.006,0.007,0.008,0.009,0.01,0.02,0.03,0.04,0.05,0.06,0.07,0.08,0.09,0.1,0.2,0.3,0.4,0.5,0.6,0.7,0.8,0.9,1,2,3,4,5,6,7,8,9,10],"tickSize":-7,"labels":false,"title":null}},
    "shape":{"field":"series","type":"nominal","scale":{"domain":["0 - 1.6","3 - 5","5 - 11","14 - 15","18 - 20","24 - 25","41- 50","54 - 57"],"range":["M-1,0H1M0,-1V1","M0,-0.75L0.75,0L0,0.75L-0.75,0Z","M0,-0.7L0.75,0.55L-0.75,0.55Z","M-0.55,-0.75L0.8,0L-0.55,0.75Z","M0,-0.8L0.19,-0.259L0.761,-0.247L0.304,0.099L0.47,0.647L0,0.32L-0.47,0.647L-0.304,0.099L-0.761,-0.247L-0.19,-0.259Z","M-0.6,-0.6L0.6,0.6M-0.6,0.6L0.6,-0.6","M0,-0.75L0.217,-0.375L0.65,-0.375L0.433,0L0.65,0.375L0.217,0.375L0,0.75L-0.217,0.375L-0.65,0.375L-0.433,0L-0.65,-0.375L-0.217,-0.375Z","M-0.5,0A0.5,0.5,0,1,1,0.5,0A0.5,0.5,0,1,1,-0.5,0Z"]},
      "legend":{"title":"F4 Fall 1996 Season-Days","orient":"none","legendX":54,"legendY":-118,"columns":2,"columnPadding":46,"rowPadding":6.7,"symbolOffset":10,"labelOffset":14,"titleFontSize":22.7,"titlePadding":1,"padding":7,"encode":{"legend":{"update":{"strokeWidth":{"value":2}}}}}},
    "stroke":{"field":"series","type":"nominal","scale":{"domain":["0 - 1.6","3 - 5","5 - 11","14 - 15","18 - 20","24 - 25","41- 50","54 - 57"],"range":["#000000","#6f9cf2","#0000ff","#00f000","#ff0000","#009933","#cc6633","#00e5f5"]},
      "legend":{"title":"F4 Fall 1996 Season-Days","orient":"none","legendX":54,"legendY":-118,"columns":2,"columnPadding":46,"rowPadding":6.7,"symbolOffset":10,"labelOffset":14,"titleFontSize":22.7,"titlePadding":1,"padding":7,"encode":{"legend":{"update":{"strokeWidth":{"value":2}}}}}},
    "fill":{"field":"series","type":"nominal","scale":{"domain":["0 - 1.6","3 - 5","5 - 11","14 - 15","18 - 20","24 - 25","41- 50","54 - 57"],"range":["transparent","transparent","transparent","transparent","#ff0000","transparent","transparent","#00e5f5"]},
      "legend":{"title":"F4 Fall 1996 Season-Days","orient":"none","legendX":54,"legendY":-118,"columns":2,"columnPadding":46,"rowPadding":6.7,"symbolOffset":10,"labelOffset":14,"titleFontSize":22.7,"titlePadding":1,"padding":7,"encode":{"legend":{"update":{"strokeWidth":{"value":2}}}}}}
   }},
  {"mark":{"type":"point","opacity":0},
   "encoding":{
    "x":{"field":"x","type":"quantitative","scale":{"type":"log","domain":[0.001,10],"nice":false},"axis":{"orient":"bottom","values":[0.001,0.01,0.1,1,10],"tickSize":15,"domain":false,"format":"~g","labelPadding":12,"title":"Specific Streamflow (L/s/ha)","titleX":240,"titleY":69,"titleBaseline":"alphabetic"}},
    "y":{"field":"y","type":"quantitative","scale":{"type":"log","domain":[0.001,10],"nice":false},"axis":{"orient":"left","values":[0.001,0.01,0.1,1,10],"tickSize":15,"domain":false,"format":".2f","labelPadding":10,"title":"NO₃ Concentration (mg/L) fall 1996 (lower) and 2000 (upper)","titleFontSize":24.5,"titleX":-118,"titleY":2,"titleAngle":-90,"titleBaseline":"alphabetic","titleAlign":"center"}}
   }}
 ],
 "resolve":{"axis":{"x":"independent","y":"independent"}}
}
]
}
